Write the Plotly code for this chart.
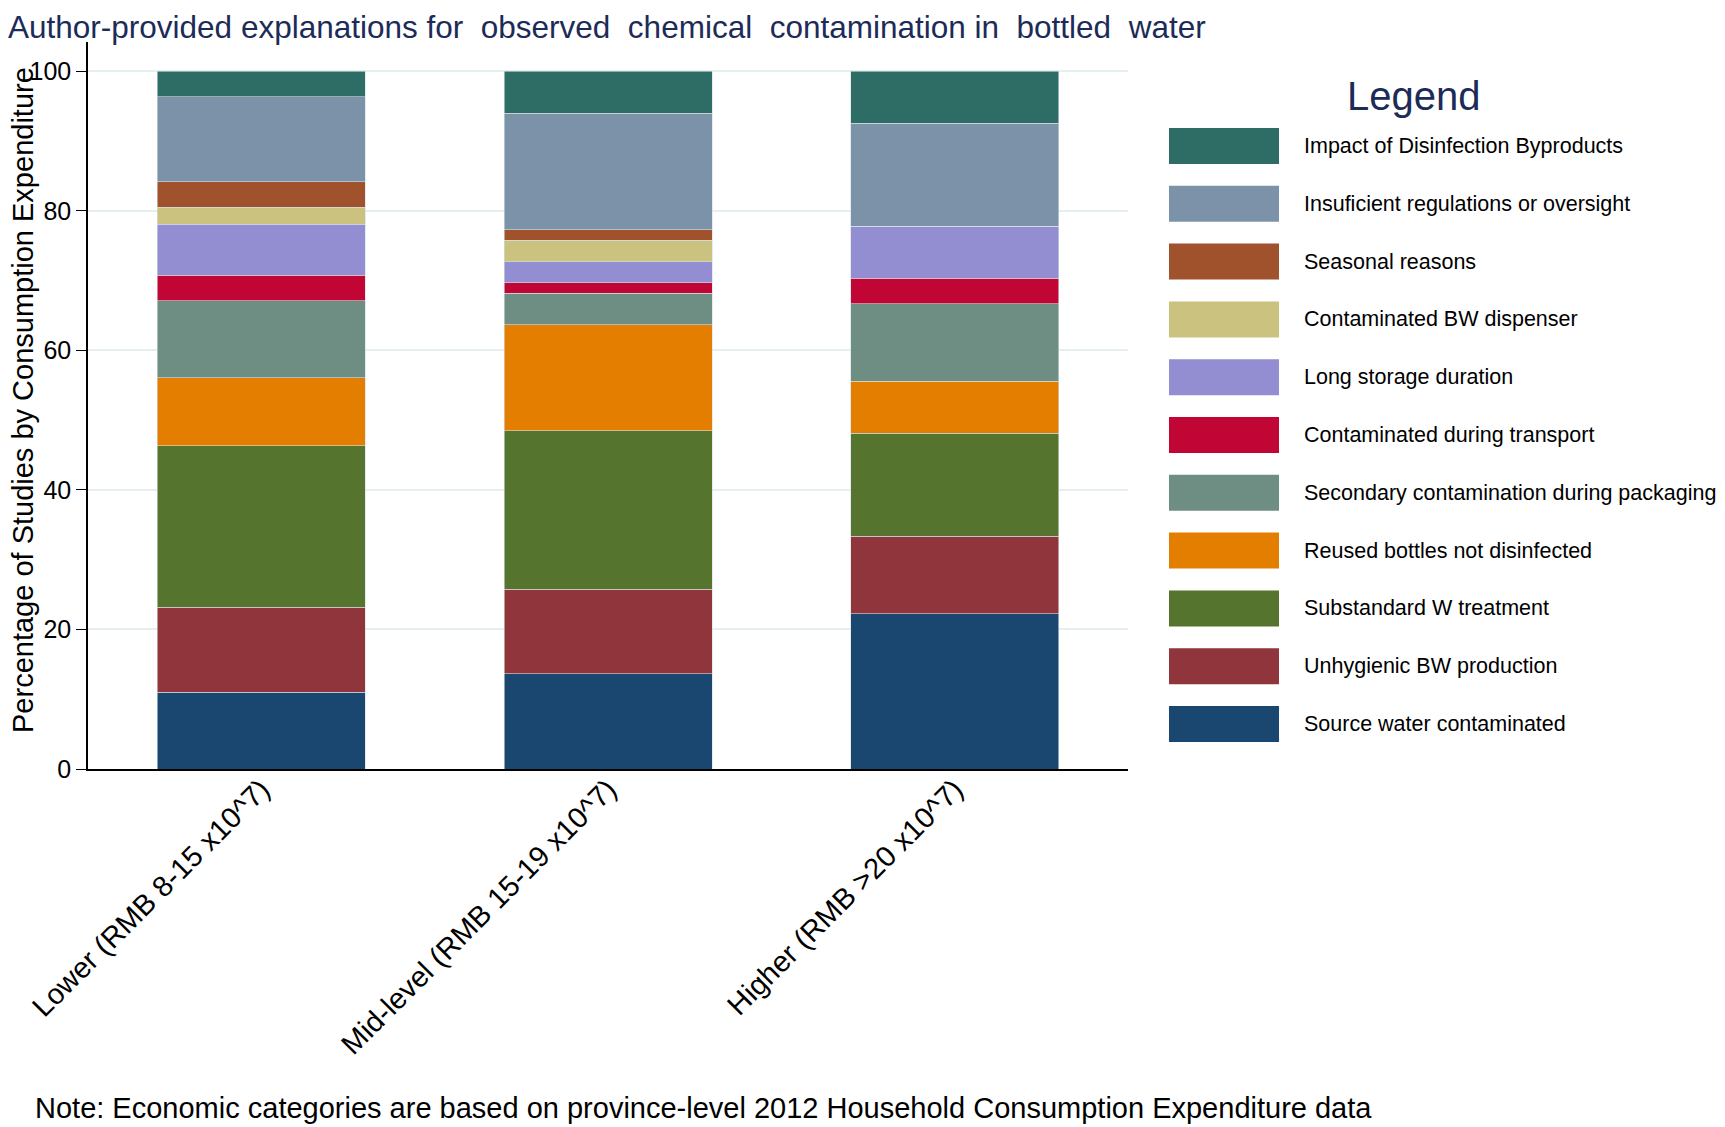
import plotly.graph_objects as go

# data: share of studies (%) per consumption-expenditure group
categories = ["Lower (RMB 8-15 x10^7)", "Mid-level (RMB 15-19 x10^7)", "Higher (RMB >20 x10^7)"]

source_water = [10.98, 13.64, 22.22]
unhygienic_bw = [12.20, 12.12, 11.11]
substandard_w = [23.17, 22.73, 14.81]
reused_bottles = [9.76, 15.15, 7.41]
secondary_pack = [10.98, 4.55, 11.11]
transport = [3.66, 1.52, 3.70]
long_storage = [7.32, 3.03, 7.41]
bw_dispenser = [2.44, 3.03, 0.0]
seasonal = [3.66, 1.52, 0.0]
insufficient_reg = [12.20, 16.67, 14.81]
dbp_impact = [3.66, 6.06, 7.41]

# stack order bottom -> top
series = [
    ("Source water contaminated", source_water, "#1a476f"),
    ("Unhygienic BW production", unhygienic_bw, "#90353b"),
    ("Substandard W treatment", substandard_w, "#55752f"),
    ("Reused bottles not disinfected", reused_bottles, "#e37e00"),
    ("Secondary contamination during packaging", secondary_pack, "#6e8e84"),
    ("Contaminated during transport", transport, "#c10534"),
    ("Long storage duration", long_storage, "#938dd2"),
    ("Contaminated BW dispenser", bw_dispenser, "#cac27e"),
    ("Seasonal reasons", seasonal, "#a0522d"),
    ("Insuficient regulations or oversight", insufficient_reg, "#7b92a8"),
    ("Impact of Disinfection Byproducts", dbp_impact, "#2d6d66"),
]

FONT = "Liberation Sans, Arial, Helvetica, sans-serif"
NAVY = "#1c2b57"
W, H = 1725, 1127
OFF = 8                              # page body margin the div sits in
L, R, T, B = 88, 1128, 42, 769       # plot area, page pixels


def px(x):
    return (x - L) / (R - L)


def py(y):
    return (B - y) / (B - T)


fig = go.Figure()
for name, vals, col in series:
    fig.add_trace(go.Bar(x=categories, y=vals, name=name, marker_color=col,
                         marker_line=dict(color="#d3e0e3", width=0.6),
                         width=0.6, showlegend=False))

# hand-drawn legend (big swatches like the original)
shapes, annos = [], []
annos.append(dict(text="Legend", x=px(1413), y=py(96), xref="paper", yref="paper",
                  showarrow=False, xanchor="center", yanchor="middle",
                  font=dict(family=FONT, size=40, color=NAVY)))
for i, (name, vals, col) in enumerate(reversed(series)):
    yc = 146 + 57.8 * i
    shapes.append(dict(type="rect", xref="paper", yref="paper",
                       x0=px(1169), x1=px(1279), y0=py(yc - 18), y1=py(yc + 18),
                       fillcolor=col, line=dict(width=0)))
    annos.append(dict(text=name, x=px(1302), y=py(yc), xref="paper", yref="paper",
                      showarrow=False, xanchor="left", yanchor="middle",
                      font=dict(family=FONT, size=21.5, color="black")))

# y title (sits over the tick labels a bit, as in the source)
annos.append(dict(text="Percentage of Studies by Consumption Expenditure",
                  x=px(23), y=py(400), xref="paper", yref="paper", textangle=-90,
                  showarrow=False, xanchor="center", yanchor="middle",
                  font=dict(family=FONT, size=29, color="black")))
# note
annos.append(dict(text="Note: Economic categories are based on province-level 2012 Household Consumption Expenditure data",
                  x=px(33), y=py(1108), xref="paper", yref="paper",
                  showarrow=False, xanchor="left", yanchor="middle",
                  font=dict(family=FONT, size=29, color="black")))

fig.update_layout(
    barmode="stack",
    width=W, height=H,
    paper_bgcolor="white", plot_bgcolor="white",
    margin=dict(l=L - OFF, r=W - R + OFF, t=T - OFF, b=H - B + OFF, autoexpand=False),
    title=dict(text="Author-provided explanations for  observed  chemical  contamination in  bottled  water",
               x=0.0, xref="container", xanchor="left",
               y=1 - (27 - OFF) / H, yref="container", yanchor="middle",
               font=dict(family=FONT, size=31.5, color=NAVY)),
    shapes=shapes, annotations=annos,
    font=dict(family=FONT, color="black"),
)
fig.update_xaxes(range=[-0.5, 2.5], showline=True, linecolor="black", linewidth=1.5,
                 ticks="", tickangle=-45, ticklabelstandoff=-10,
                 tickfont=dict(family=FONT, size=29, color="black"), showgrid=False)
fig.update_yaxes(range=[0, 104.2], showline=True, linecolor="black", linewidth=1.5,
                 tickvals=[0, 20, 40, 60, 80, 100], ticks="outside", ticklen=10, tickcolor="black",
                 tickfont=dict(family=FONT, size=25, color="black"),
                 showgrid=True, gridcolor="#e6eff0", gridwidth=2, zeroline=False)

fig.write_html("out.html")
